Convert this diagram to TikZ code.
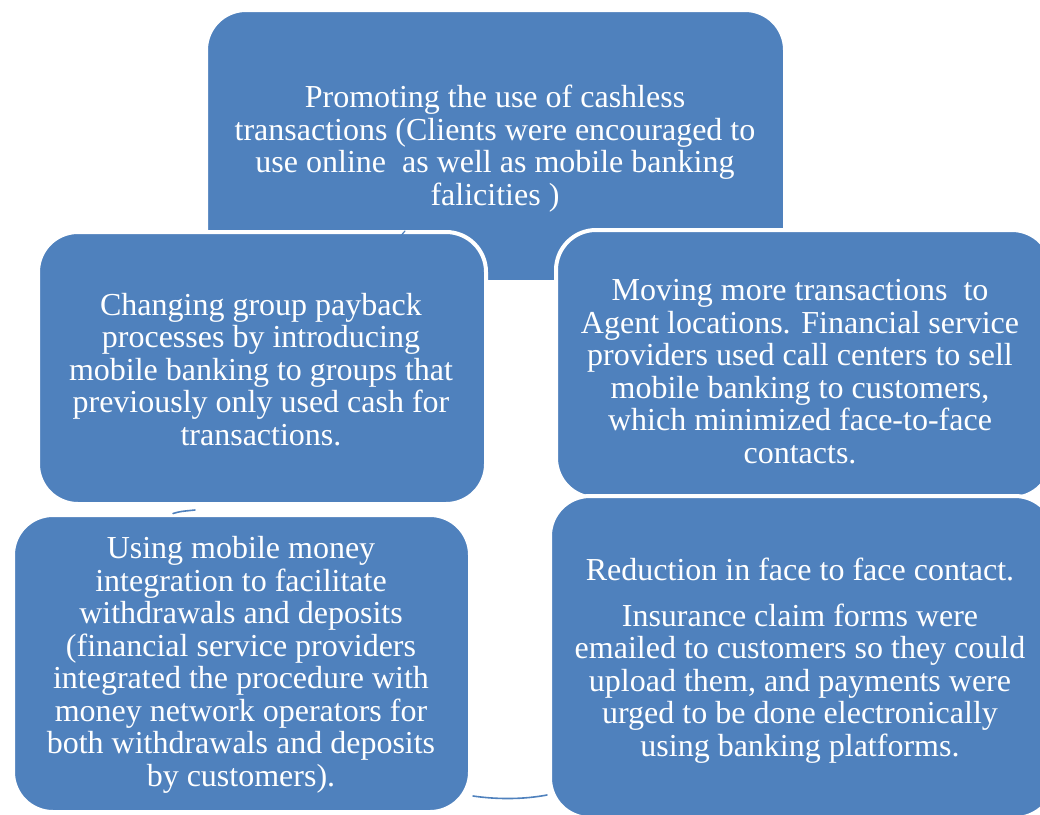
\documentclass[tikz,border=0pt]{standalone}
\usepackage{fontspec}
\setmainfont{Liberation Serif}
\definecolor{boxblue}{HTML}{4F81BD}
\begin{document}
\begin{tikzpicture}[x=1pt,y=-1pt,
  card/.style={shape=rectangle, fill=boxblue, draw=white, line width=4pt,
    rounded corners=40pt, inner sep=0pt},
  cardtext/.style={text=white, align=center, inner sep=0pt,
    font=\fontsize{32}{32.5}\selectfont},
  arcpiece/.style={draw=boxblue, line width=1.6pt, line cap=round}]
\useasboundingbox (0,0) rectangle (1040,814);
\clip (0,0) rectangle (1040,814);

% rounded cards, back to front
\node[card, minimum width=579pt, minimum height=272pt] (box1) at (495.5,146) {};
\node[card, minimum width=448pt, minimum height=272pt] (box2) at (262,368) {};
\node[card, minimum width=496pt, minimum height=268pt] (box3) at (804,364) {};
\node[card, minimum width=457pt, minimum height=297pt] (box4) at (241.5,663.5) {};
\node[card, minimum width=505pt, minimum height=322pt] (box5) at (802.5,657) {};

% card texts
\node[cardtext] (txt1) at (495,148.5) {Promoting the use of cashless\\
  transactions (Clients were encouraged to\\
  use online\ \ as well as mobile banking\\
  falicities )};
\node[cardtext] (txt2) at (261,369.5) {Changing group payback\\
  processes by introducing\\
  mobile banking to groups that\\
  previously only used cash for\\
  transactions.};
\node[cardtext] (txt3) at (800,371.5) {Moving more transactions\ \ to\\
  Agent locations. Financial service\\
  providers used call centers to sell\\
  mobile banking to customers,\\
  which minimized face-to-face\\
  contacts.};
\node[cardtext] (txt4) at (241,665) {Using mobile money\\
  integration to facilitate\\
  withdrawals and deposits\\
  (financial service providers\\
  integrated the procedure with\\
  money network operators for\\
  both withdrawals and deposits\\
  by customers).};
\node[cardtext] (txt5) at (800,660.5) {Reduction in face to face contact.\\[13pt]
  Insurance claim forms were\\
  emailed to customers so they could\\
  upload them, and payments were\\
  urged to be done electronically\\
  using banking platforms.};

% pieces of the cycle arcs showing between the cards
\coordinate (arcAa) at (401.5,235);
\coordinate (arcAb) at (405,231);
\coordinate (arcBa) at (173,513.5);
\coordinate (arcBb) at (195,510);
\coordinate (arcCa) at (473,796);
\coordinate (arcCb) at (547,795);
\draw[arcpiece, line width=1.2pt] (arcAa) -- (arcAb);
\draw[arcpiece] (arcBa) .. controls (180,511.5) .. (arcBb);
\draw[arcpiece] (arcCa) .. controls (497,799.5) and (523,799.5) .. (arcCb);
\end{tikzpicture}
\end{document}
